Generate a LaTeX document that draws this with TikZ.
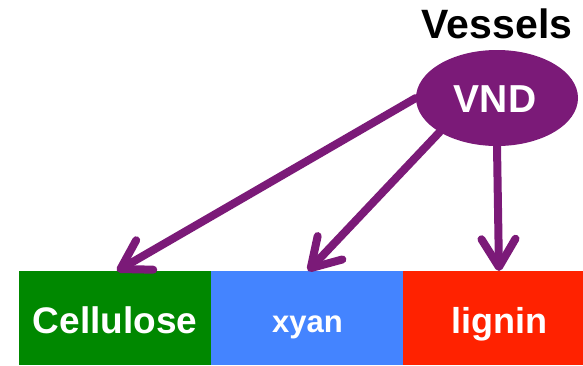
\documentclass[tikz,border=0pt]{standalone}
\usepackage{fontspec}
\setmainfont{Liberation Sans}
\usetikzlibrary{arrows.meta,shapes.geometric}
\definecolor{vndpurple}{RGB}{123,26,120}
\definecolor{cellgreen}{RGB}{0,136,0}
\definecolor{xyanblue}{RGB}{68,132,255}
\definecolor{ligred}{RGB}{255,34,0}
\tikzset{
  boxstyle/.style={draw=none, inner sep=0pt, minimum height=94pt, anchor=north west},
  labelstyle/.style={text=white, font=\bfseries, anchor=base, inner sep=0pt},
  vndarrow/.style={draw=vndpurple, line width=8pt, line cap=round,
    -{Straight Barb[length=28pt, width=34pt, round]}},
}
\begin{document}
\begin{tikzpicture}[x=1pt, y=-1pt]
  \useasboundingbox (0,0) rectangle (583,365);
  % boxes
  \node[boxstyle, fill=cellgreen, minimum width=192pt] (cellbox) at (19,271) {};
  \node[boxstyle, fill=xyanblue, minimum width=192pt] (xyanbox) at (211,271) {};
  \node[boxstyle, fill=ligred, minimum width=180pt] (ligbox) at (403,271) {};
  % labels
  \node[labelstyle, font=\bfseries\fontsize{37}{40}\selectfont] (celltext) at (115,333) {Cellulose};
  \node[labelstyle, font=\bfseries\fontsize{31}{34}\selectfont] (xyantext) at (307.5,332) {xyan};
  \node[labelstyle, font=\bfseries\fontsize{36}{40}\selectfont] (ligtext) at (499.5,333) {lignin};
  % ellipse
  \node[fill=vndpurple, ellipse, minimum width=162pt, minimum height=96pt, inner sep=0pt] (vnd) at (497,98) {};
  \node[labelstyle, font=\bfseries\fontsize{39}{42}\selectfont] (vndtext) at (495,112) {VND};
  \node[anchor=base, inner sep=0pt, font=\bfseries\fontsize{41}{44}\selectfont] (vessels) at (497,38) {Vessels};
  % arrow tips
  \coordinate (tipcell) at (117,271);
  \coordinate (tipxyan) at (308,271);
  \coordinate (tiplig) at (499,271);
  \draw[vndarrow] (vnd.west) -- (tipcell);
  \draw[vndarrow] (vnd.south west) -- (tipxyan);
  \draw[vndarrow] (vnd.south) -- (tiplig);
\end{tikzpicture}
\end{document}
